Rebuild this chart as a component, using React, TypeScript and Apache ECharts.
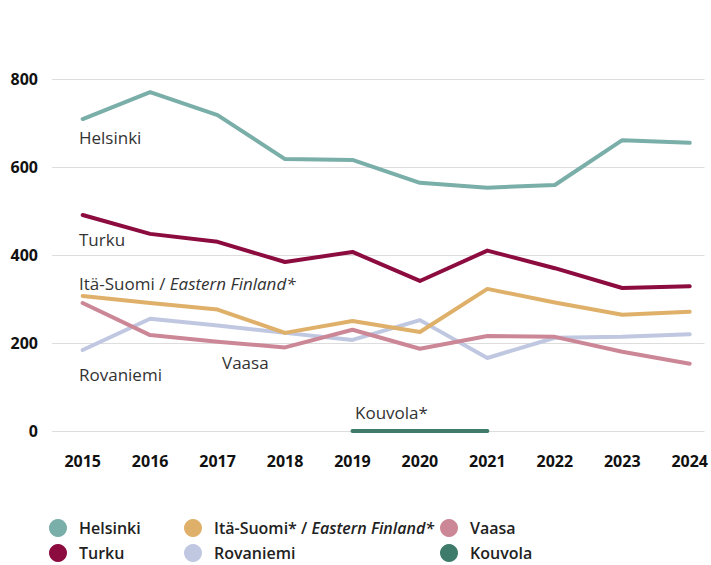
import React, { useEffect, useRef } from "react";
import * as echarts from "echarts";

const years = [2015, 2016, 2017, 2018, 2019, 2020, 2021, 2022, 2023, 2024];
const helsinki = [709, 770, 718, 618, 616, 564, 553, 559, 661, 655];
const turku = [491, 448, 430, 384, 407, 341, 410, 370, 325, 329];
const itaSuomi = [307, 291, 276, 223, 250, 225, 323, 292, 264, 271];
const rovaniemi = [184, 255, 240, 223, 207, 252, 166, 212, 214, 220];
const vaasa = [291, 218, 203, 190, 230, 187, 216, 214, 180, 153];
const kouvolaYears = [2019, 2020, 2021];
const kouvola = [0, 0, 0];
const yTicks = [0, 200, 400, 600, 800];

const FONT = "'Open Sans', 'Noto Sans', sans-serif";

const pair = (xs: number[], ys: number[]) => xs.map((x, i) => [x, ys[i]]);

export default function App() {
  const ref = useRef<HTMLDivElement>(null);
  useEffect(() => {
    if (!ref.current) return;
    const chart = echarts.init(ref.current, undefined, { renderer: "svg" });
    const mk = (name: string, data: number[][], color: string) => ({
      type: "line",
      name,
      data,
      symbol: "none",
      color,
      lineStyle: { width: 4, color, cap: "round", join: "round" },
    });
    const ITA = "Itä-Suomi* / Eastern Finland*";
    const leg = (name: string, left: number, top: number) => ({
      left,
      top,
      padding: 0,
      icon: "circle",
      itemWidth: 18,
      itemHeight: 18,
      data: [name],
      textStyle: {
        fontFamily: FONT,
        fontSize: 16,
        fontWeight: 600,
        color: "#222",
        padding: [0, 0, 0, 7],
        rich: {
          n: { fontFamily: FONT, fontSize: 16, fontWeight: 600, color: "#222" },
          i: { fontFamily: FONT, fontSize: 16, fontWeight: 600, fontStyle: "italic", color: "#222" },
        },
      },
      formatter: (n: string) =>
        n === ITA ? "{n|Itä-Suomi* / }{i|Eastern Finland*}" : "{n|" + n + "}",
    });
    const txt = (x: number, y: number, text: string) => ({
      type: "text",
      x,
      y,
      style: {
        text,
        fontFamily: FONT,
        fontSize: 17,
        fill: "#333",
        textVerticalAlign: "middle",
      },
    });
    chart.setOption({
      animation: false,
      grid: { left: 52, right: 0, top: 79, bottom: 134 },
      xAxis: {
        type: "value",
        min: 2014.545,
        max: 2024.22,
        axisLine: { show: false },
        axisTick: { show: false },
        splitLine: { show: false },
        axisLabel: {
          customValues: years,
          margin: 22,
          fontFamily: FONT,
          fontSize: 16,
          fontWeight: "bold",
          color: "#111",
          formatter: (v: number) => String(v),
        },
      },
      yAxis: {
        type: "value",
        min: 0,
        max: 800,
        interval: 200,
        axisLine: { show: false },
        axisTick: { show: false },
        splitLine: { lineStyle: { color: "#dddddd", width: 1 } },
        axisLabel: {
          customValues: yTicks,
          margin: 14,
          fontFamily: FONT,
          fontSize: 16,
          fontWeight: "bold",
          color: "#111",
        },
      },
      legend: [
        leg("Helsinki", 49, 519),
        leg("Turku", 49, 544),
        leg(ITA, 184, 519),
        leg("Rovaniemi", 184, 544),
        leg("Vaasa", 440, 519),
        leg("Kouvola", 440, 544),
      ],
      series: [
        mk("Helsinki", pair(years, helsinki), "#7aaea8"),
        mk("Rovaniemi", pair(years, rovaniemi), "#c0c7e1"),
        mk("Vaasa", pair(years, vaasa), "#cc8797"),
        mk(ITA, pair(years, itaSuomi), "#dfb069"),
        mk("Turku", pair(years, turku), "#8c0c40"),
        mk("Kouvola", pair(kouvolaYears, kouvola), "#3e7b6b"),
      ],
      graphic: [
        txt(79, 137, "Helsinki"),
        txt(79, 239, "Turku"),
        {
          type: "text",
          x: 79,
          y: 283,
          style: {
            text: "{n|Itä-Suomi / }{i|Eastern Finland*}",
            fontFamily: FONT,
            fontSize: 17,
            textVerticalAlign: "middle",
            rich: {
              n: { fontFamily: FONT, fontSize: 17, fill: "#333" },
              i: { fontFamily: FONT, fontSize: 17, fontStyle: "italic", fill: "#333" },
            },
          },
        },
        txt(79, 374, "Rovaniemi"),
        txt(222, 362, "Vaasa"),
        txt(355, 412, "Kouvola*"),
      ],
    });
    return () => chart.dispose();
  }, []);
  return <div ref={ref} style={{ width: 711, height: 565, position: "absolute", left: 0, top: 0 }} />;
}
